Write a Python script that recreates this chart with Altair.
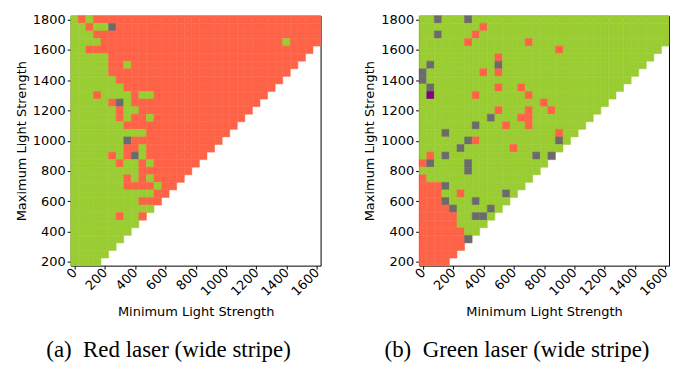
import altair as alt
import pandas as pd

# Grid categories (minimum / maximum light strength)
min_strengths = [0, 50, 100, 150, 200, 250, 300, 350, 400, 450, 500, 550, 600, 650, 700, 750,
                 800, 850, 900, 950, 1000, 1050, 1100, 1150, 1200, 1250, 1300, 1350, 1400, 1450,
                 1500, 1550, 1600]
max_strengths = [1800, 1750, 1700, 1650, 1600, 1550, 1500, 1450, 1400, 1350, 1300, 1250, 1200,
                 1150, 1100, 1050, 1000, 950, 900, 850, 800, 750, 700, 650, 600, 550, 500, 450,
                 400, 350, 300, 250, 200]
x_ticks = [0, 200, 400, 600, 800, 1000, 1200, 1400, 1600]
y_ticks = [200, 400, 600, 800, 1000, 1200, 1400, 1600, 1800]

# Cell states per row (top row = 1800), run-length coded from left (min = 0):
# G = green, R = red, K = grey, P = purple
red_laser_rows = [
    "1G 1R 1G 30R",
    "2G 1R 2G 1K 27R",
    "3G 30R",
    "4G 24R 1G 4R",
    "2G 30R",
    "5G 26R",
    "5G 2R 1G 22R",
    "5G 24R",
    "6G 22R",
    "7G 20R",
    "3G 1R 4G 1R 2G 15R",
    "5G 1R 1K 1G 17R",
    "6G 1R 2G 15R",
    "6G 1R 1G 2R 1G 12R",
    "7G 15R",
    "10G 11R",
    "7G 1K 12R",
    "7G 2R 1G 9R",
    "5G 1R 1G 1R 1K 1G 8R",
    "6G 1R 2G 1R 1G 6R",
    "9G 7R",
    "7G 1R 1G 1R 1G 4R",
    "7G 4R 1G 2R",
    "11G 2R",
    "9G 3R",
    "11G",
    "6G 1R 2G 1R",
    "9G",
    "8G",
    "7G",
    "6G",
    "5G",
    "4G",
]

green_laser_rows = [
    "2G 1K 3G 1K 26G",
    "8G 1R 24G",
    "2G 1K 4G 1R 25G",
    "6G 1R 7G 1R 18G",
    "18G 1R 13G",
    "10G 1R 20G",
    "1G 1K 8G 1K 19G",
    "1K 7G 1R 1G 1R 18G",
    "1K 27G",
    "1G 1K 8G 1R 2G 1R 13G",
    "1G 1P 5G 1R 6G 1R 11G",
    "16G 1R 8G",
    "10G 1R 3G 1R 2G 1R 6G",
    "9G 1K 3G 2R 8G",
    "7G 1K 3G 1R 2G 1R 7G",
    "3G 1K 14G 1R 2G",
    "6G 1K 1R 10G 1K 1G",
    "5G 1K 6G 1R 6G",
    "1G 1R 1G 1K 11G 1K 1G 1K",
    "1R 1K 4G 1K 10G",
    "6G 1K 9G",
    "1R 14G",
    "3R 1K 10G",
    "3R 2G 1R 5G 1K 1G",
    "3R 1K 3G 1K 4G",
    "4R 1K 4G 1K 1G",
    "5R 2G 2K 1G",
    "5R 4G",
    "6R 2G",
    "6R 1K",
    "6R",
    "5R",
    "4R",
]

state_codes = ["G", "R", "K", "P"]
state_colors = ["#9ACD32", "#FF6347", "#6B6B6B", "#800080"]

captions = ["(a)\u00a0\u00a0Red laser (wide stripe)",
            "(b)\u00a0\u00a0Green laser (wide stripe)"]


def expand(rows):
    records = []
    for r, row in enumerate(rows):
        c = 0
        for tok in row.split():
            n, code = int(tok[:-1]), tok[-1]
            for _ in range(n):
                records.append({"min": min_strengths[c], "max": max_strengths[r], "state": code})
                c += 1
    return pd.DataFrame(records)


color_scale = alt.Scale(domain=state_codes, range=state_colors)


def panel(df, caption):
    return (
        alt.Chart(df)
        .transform_calculate(
            x1="datum.min - 25", x2="datum.min + 25",
            y1="datum.max - 25", y2="datum.max + 25",
        )
        .mark_rect(strokeWidth=0.5)
        .encode(
            x=alt.X("x1:Q",
                    scale=alt.Scale(domain=[-25, 1625], nice=False, zero=False),
                    axis=alt.Axis(values=x_ticks, format="d", title="Minimum Light Strength",
                                  labelAngle=315, labelAlign="right", labelBaseline="middle",
                                  labelOverlap=False, labelPadding=1, titlePadding=7)),
            x2="x2:Q",
            y=alt.Y("y1:Q",
                    scale=alt.Scale(domain=[175, 1825], nice=False, zero=False),
                    axis=alt.Axis(values=y_ticks, format="d", title="Maximum Light Strength",
                                  labelOverlap=False, labelPadding=2, titlePadding=4)),
            y2="y2:Q",
            color=alt.Color("state:N", scale=color_scale, legend=None),
            stroke=alt.Stroke("state:N", scale=color_scale, legend=None),
        )
        .properties(
            width=251, height=251,
            title=alt.TitleParams(caption, orient="bottom", frame="bounds", anchor="middle",
                                  font="Liberation Serif", fontSize=23, fontWeight="normal",
                                  color="#000000", offset=21),
        )
    )


chart = (
    alt.hconcat(panel(expand(red_laser_rows), captions[0]),
                panel(expand(green_laser_rows), captions[1]),
                spacing=40)
    .properties(padding={"left": 6, "top": 4, "right": 0, "bottom": 0})
    .configure_view(stroke="#000000", strokeWidth=1)
    .configure_axis(
        labelFont="DejaVu Sans", labelFontSize=13, labelColor="#000000",
        titleFont="DejaVu Sans", titleFontSize=13, titleFontWeight="normal", titleColor="#000000",
        tickColor="#000000", tickSize=3.5, tickWidth=1, domain=False, grid=False,
    )
    .configure_title(font="Liberation Serif")
)

chart.save("out.html", embed_options={"renderer": "svg", "actions": False})
